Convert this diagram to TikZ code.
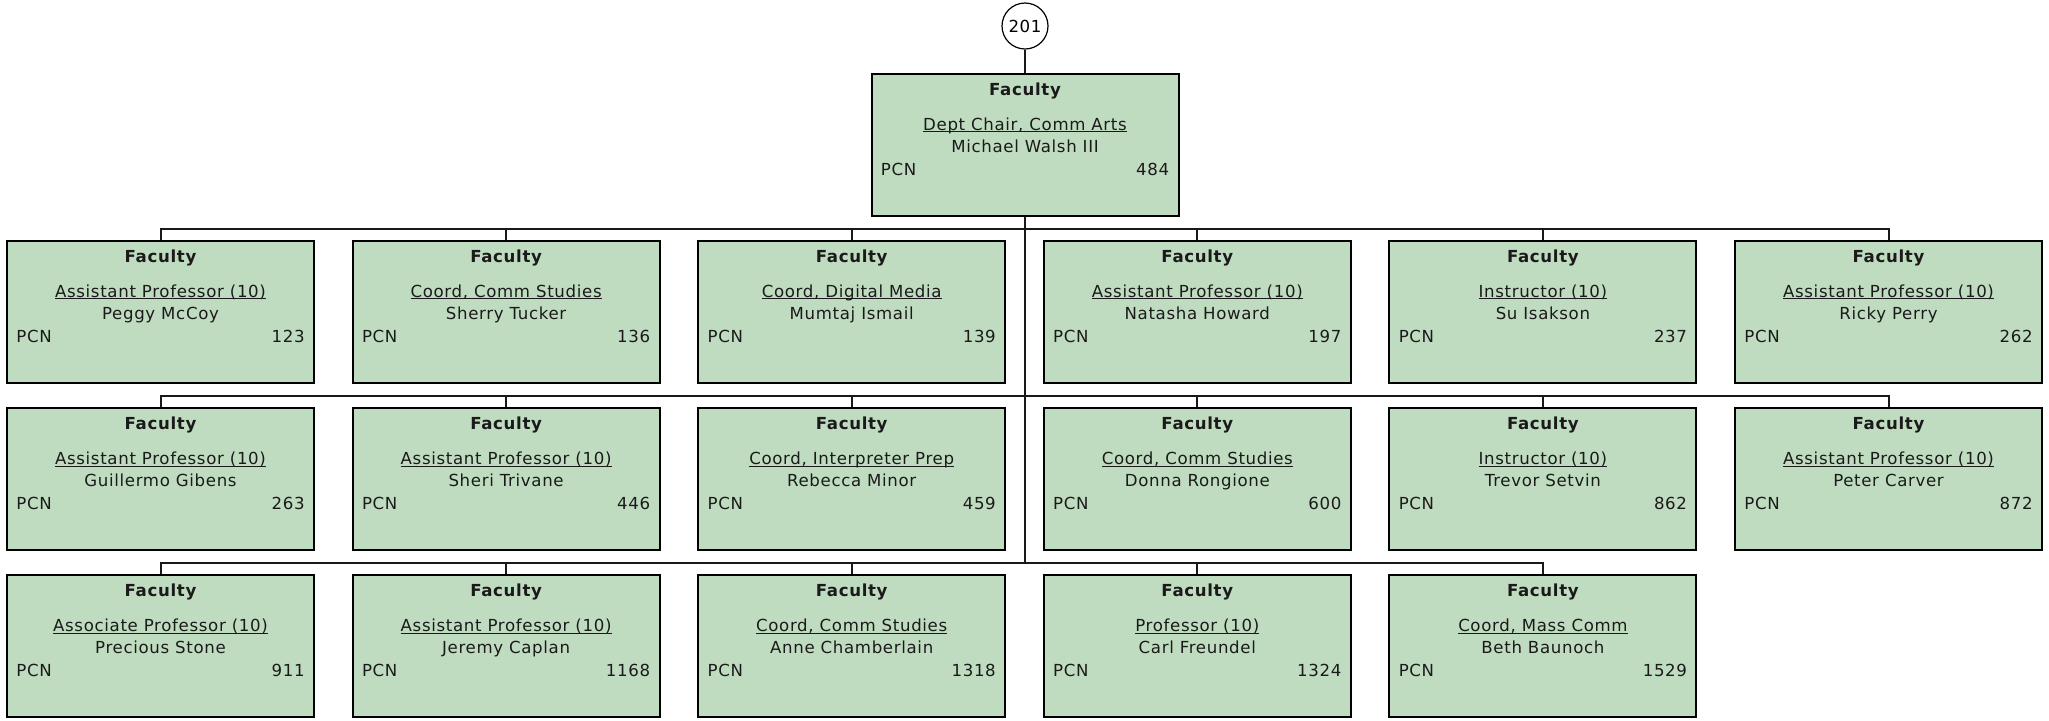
\documentclass[tikz,border=0pt]{standalone}
\usepackage{fontspec}
\setmainfont[LetterSpace=4]{DejaVu Sans}
\usepackage{tikz}
\usetikzlibrary{positioning, calc}
\usepackage{xcolor}
\definecolor{facgreen}{RGB}{192,220,192}
\definecolor{ink}{RGB}{26,26,26}

\tikzset{
  facbox/.style={draw=black, fill=facgreen, line width=1pt, inner sep=0pt,
                 minimum width=153.5pt, minimum height=71pt},
  boxtxt/.style={font=\fontsize{8.3pt}{9pt}\selectfont, text=ink, inner sep=0pt},
  boxhead/.style={boxtxt, font=\fontsize{8.3pt}{9pt}\selectfont\bfseries},
  numcirc/.style={draw=black, fill=white, circle, line width=0.6pt,
                  minimum size=23pt, inner sep=0pt,
                  font=\fontsize{8.3pt}{9pt}\selectfont},
  link/.style={draw=black!90, line width=1pt}
}

% underline that sits just under the baseline
\newcommand{\titleline}[1]{\setbox0\hbox{#1}\rlap{\rule[-1pt]{\wd0}{0.5pt}}\box0}

% one faculty card: name, x, y, title, person, pcn
\newcommand{\faccard}[6]{
  \node[facbox] (#1) at (#2,#3) {};
  \node[boxhead, anchor=base] at ($(#1.north)+(0,22.6)$) {Faculty};
  \node[boxtxt, anchor=base] at ($(#1.north)+(0,57.6)$) {\titleline{#4}};
  \node[boxtxt, anchor=base] at ($(#1.north)+(0,79.6)$) {#5};
  \node[boxtxt, anchor=base west] at ($(#1.north west)+(10,102.6)$) {PCN};
  \node[boxtxt, anchor=base east] at ($(#1.north east)+(-10,102.6)$) {#6};
}

\begin{document}
\begin{tikzpicture}[x=0.5pt, y=-0.5pt]
  \useasboundingbox (0,0) rectangle (2049,720);

  % head of department
  \node[numcirc] (unit) at (1025,26) {201};
  \faccard{chair}{1025}{144.5}{Dept Chair, Comm Arts}{Michael Walsh III}{484}

  % first row
  \faccard{ra}{160.5}{311.7}{Assistant Professor (10)}{Peggy McCoy}{123}
  \faccard{rb}{506.1}{311.7}{Coord, Comm Studies}{Sherry Tucker}{136}
  \faccard{rc}{851.7}{311.7}{Coord, Digital Media}{Mumtaj Ismail}{139}
  \faccard{rd}{1197.3}{311.7}{Assistant Professor (10)}{Natasha Howard}{197}
  \faccard{re}{1542.9}{311.7}{Instructor (10)}{Su Isakson}{237}
  \faccard{rf}{1888.5}{311.7}{Assistant Professor (10)}{Ricky Perry}{262}

  % second row
  \faccard{sa}{160.5}{479}{Assistant Professor (10)}{Guillermo Gibens}{263}
  \faccard{sb}{506.1}{479}{Assistant Professor (10)}{Sheri Trivane}{446}
  \faccard{sc}{851.7}{479}{Coord, Interpreter Prep}{Rebecca Minor}{459}
  \faccard{sd}{1197.3}{479}{Coord, Comm Studies}{Donna Rongione}{600}
  \faccard{se}{1542.9}{479}{Instructor (10)}{Trevor Setvin}{862}
  \faccard{sf}{1888.5}{479}{Assistant Professor (10)}{Peter Carver}{872}

  % third row
  \faccard{ta}{160.5}{646}{Associate Professor (10)}{Precious Stone}{911}
  \faccard{tb}{506.1}{646}{Assistant Professor (10)}{Jeremy Caplan}{1168}
  \faccard{tc}{851.7}{646}{Coord, Comm Studies}{Anne Chamberlain}{1318}
  \faccard{td}{1197.3}{646}{Professor (10)}{Carl Freundel}{1324}
  \faccard{te}{1542.9}{646}{Coord, Mass Comm}{Beth Baunoch}{1529}

  % connectors
  \coordinate (bus1) at (1025,228.5);
  \coordinate (bus2) at (1025,395.5);
  \coordinate (bus3) at (1025,562.5);
  \draw[link] (unit.south) -- (chair.north);
  \draw[link] (chair.south) -- (bus3);
  \foreach \c in {ra,rb,rc,rd,re,rf} \draw[link] (bus1) -| (\c.north);
  \foreach \c in {sa,sb,sc,sd,se,sf} \draw[link] (bus2) -| (\c.north);
  \foreach \c in {ta,tb,tc,td,te} \draw[link] (bus3) -| (\c.north);
\end{tikzpicture}
\end{document}
